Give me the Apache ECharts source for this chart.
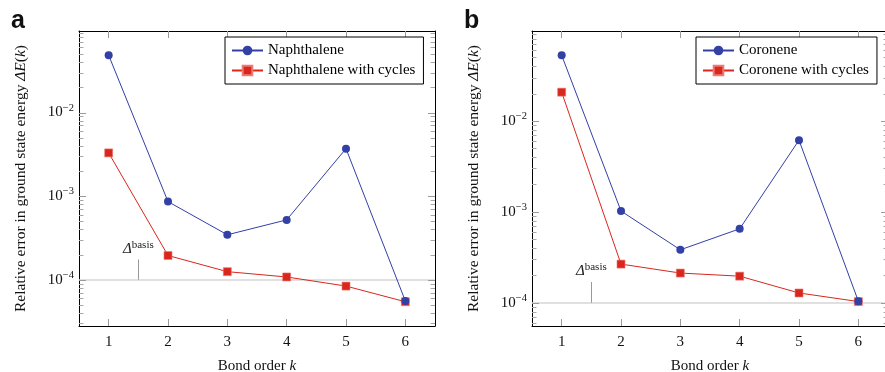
<!DOCTYPE html>
<html><head><meta charset="utf-8">
<script src="https://cdn.jsdelivr.net/npm/echarts@6/dist/echarts.min.js"></script>
<style>html,body{margin:0;padding:0;background:#fff}#c{width:885px;height:372px}</style>
</head><body><div id="c"></div>
<script>
// ---- data ----
const bondOrders = [1, 2, 3, 4, 5, 6];
const naphthalene = [0.0484, 8.6e-4, 3.45e-4, 5.2e-4, 3.7e-3, 5.57e-5];
const naphthaleneCycles = [3.29e-3, 1.95e-4, 1.25e-4, 1.08e-4, 8.4e-5, 5.46e-5];
const coronene = [0.0527, 1.02e-3, 3.82e-4, 6.5e-4, 6.14e-3, 1.04e-4];
const coroneneCycles = [0.0207, 2.66e-4, 2.12e-4, 1.96e-4, 1.28e-4, 1.03e-4];
const yTickExponents = [-4, -3, -2];
const basisThreshold = 1e-4;
const basisMarkerX = 1.5;
const basisMarkerTop = [1.75e-4, 1.69e-4];
const panelLabels = ['a', 'b'];
const seriesNames = [['Naphthalene', 'Naphthalene with cycles'], ['Coronene', 'Coronene with cycles']];
const seriesValues = [[naphthalene, naphthaleneCycles], [coronene, coroneneCycles]];

// ---- layout ----
const SERIF = 'Liberation Serif';
const BLUE = '#3340a6', RED = '#d9271d';
const X_MIN = 0.5, X_MAX = 6.5;
const MAJOR_LEN = 7, MINOR_LEN = 4.5;
const panels = [
  {left: 79, right: 450, logMin: -4.553, logMax: -1.025, legendLeft: 225, letterX: 11},
  {left: 532, right: -3, logMin: -4.256, logMax: -1.011, legendLeft: 696, letterX: 464}
];
// minor tick positions (log10 space) at 2..9 within each decade
const minorYTicks = [];
for (let d = -6; d <= 0; d++) for (let m = 2; m <= 9; m++) minorYTicks.push(d + Math.log10(m));

const labelRich = {
  b: {fontFamily: SERIF, fontSize: 15, color: '#111'},
  s: {fontFamily: SERIF, fontSize: 10.5, color: '#111', padding: [0, 0, 9, 0]}
};
const nameRich = {
  r: {fontFamily: SERIF, fontSize: 15.5, color: '#111'},
  i: {fontFamily: SERIF, fontSize: 15.5, color: '#111', fontStyle: 'italic'}
};
const xNameRich = {
  r: {fontFamily: SERIF, fontSize: 15, color: '#111'},
  i: {fontFamily: SERIF, fontSize: 15, color: '#111', fontStyle: 'italic'}
};

const grid = [], xAxis = [], yAxis = [], series = [], legend = [], graphic = [];
panels.forEach((p, i) => {
  grid.push({left: p.left, right: p.right, top: 31, bottom: 46, containLabel: false, outerBoundsMode: 'none'});
  const xCommon = {type: 'value', gridIndex: i, min: X_MIN, max: X_MAX, splitLine: {show: false},
    axisLine: {show: true, onZero: false, lineStyle: {color: '#000', width: 1}},
    axisTick: {show: true, inside: true, length: MAJOR_LEN, customValues: bondOrders, lineStyle: {color: '#9a9a9a'}}};
  xAxis.push(Object.assign({}, xCommon, {position: 'bottom',
    axisLabel: {show: true, customValues: bondOrders, margin: 9, fontFamily: SERIF, fontSize: 15, color: '#111'},
    name: '{r|Bond order }{i|k}', nameLocation: 'middle', nameGap: 33, nameTextStyle: {rich: xNameRich}}));
  xAxis.push(Object.assign({}, xCommon, {position: 'top', axisLabel: {show: false}}));

  const yCommon = {type: 'value', gridIndex: i, min: p.logMin, max: p.logMax, splitLine: {show: false}, axisTick: {show: false}};
  // left: labels + name + border line (log10 space)
  yAxis.push(Object.assign({}, yCommon, {position: 'left',
    axisLine: {show: true, onZero: false, lineStyle: {color: '#000', width: 1}},
    axisLabel: {show: true, customValues: yTickExponents, margin: 5, formatter: v => '{b|10}{s|\u2212' + (-v) + '}', rich: labelRich},
    name: '{r|Relative error in ground state energy }{i|\u0394E}{r|(}{i|k}{r|)}', nameLocation: 'middle', nameGap: 50,
    nameTextStyle: {rich: nameRich}}));
  // right border line
  yAxis.push(Object.assign({}, yCommon, {position: 'right',
    axisLine: {show: true, onZero: false, lineStyle: {color: '#000', width: 1}},
    axisLabel: {show: false}}));
  // data axis (log scale), hidden
  yAxis.push({type: 'log', gridIndex: i, min: Math.pow(10, p.logMin), max: Math.pow(10, p.logMax), show: false});

  const xi = 2 * i, yLab = 3 * i, yi = 3 * i + 2;

  // inward y ticks on both borders (custom series placed through the log10 label axis)
  const inRange = t => t >= p.logMin && t <= p.logMax;
  const tickData = [];
  [[X_MIN, 1], [X_MAX, -1]].forEach(([xs, dir]) => {
    yTickExponents.filter(inRange).forEach(t => tickData.push([xs, t, dir * MAJOR_LEN, 1]));
    minorYTicks.filter(inRange).forEach(t => tickData.push([xs, t, dir * MINOR_LEN, 0]));
  });
  series.push({type: 'custom', name: 'yTicks' + i, xAxisIndex: xi, yAxisIndex: yLab, silent: true, clip: false, z: 2,
    data: tickData,
    renderItem: (params, api) => {
      const pt = api.coord([api.value(0), api.value(1)]);
      const y = Math.round(pt[1]) + 0.5;
      return {type: 'line', shape: {x1: pt[0], y1: y, x2: pt[0] + api.value(2), y2: y},
        style: {stroke: api.value(3) ? '#9a9a9a' : '#a8a8a8', lineWidth: 1}};
    }});

  const [n0, n1] = seriesNames[i];
  const [v0, v1] = seriesValues[i];
  series.push({type: 'line', name: n0, xAxisIndex: xi, yAxisIndex: yi, z: 4,
    data: bondOrders.map((k, j) => [k, v0[j]]),
    symbol: 'circle', symbolSize: 8, showSymbol: true,
    lineStyle: {color: BLUE, width: 1}, itemStyle: {color: BLUE}});
  series.push({type: 'line', name: n1, xAxisIndex: xi, yAxisIndex: yi, z: 3,
    data: bondOrders.map((k, j) => [k, v1[j]]),
    symbol: 'rect', symbolSize: 8, showSymbol: true,
    lineStyle: {color: RED, width: 1}, itemStyle: {color: RED, borderColor: '#ee7a72', borderWidth: 0.6},
    markLine: {silent: true, symbol: 'none', z: 1, animation: false,
      data: [
        [{coord: [X_MIN, basisThreshold], lineStyle: {color: '#d6d6d6', width: 1.5, type: 'solid'}, label: {show: false}},
         {coord: [X_MAX, basisThreshold]}],
        [{coord: [basisMarkerX, basisThreshold], lineStyle: {color: '#999', width: 1, type: 'solid'},
          label: {show: true, position: 'end', distance: 1, formatter: '{d|\u0394}{s|basis}',
            rich: {d: {fontFamily: SERIF, fontSize: 15, fontStyle: 'italic', color: '#222'},
                   s: {fontFamily: SERIF, fontSize: 11, color: '#222', padding: [0, 0, 8, 0]}}}},
         {coord: [basisMarkerX, basisMarkerTop[i]]}]
      ]}});

  legend.push({left: p.legendLeft, top: 37, orient: 'vertical', data: [n0, n1], selectedMode: false,
    borderColor: '#000', borderWidth: 1, backgroundColor: '#fff', padding: [6, 8, 6, 6],
    itemGap: 5, itemWidth: 31, itemHeight: 12,
    textStyle: {fontFamily: SERIF, fontSize: 15, color: '#000'}});

  graphic.push({type: 'text', left: p.letterX, top: 9,
    style: {text: panelLabels[i], font: 'bold 25px "Liberation Sans"', fill: '#111'}});
});

const chart = echarts.init(document.getElementById('c'));
chart.setOption({animation: false, backgroundColor: '#fff', grid, xAxis, yAxis, series, legend, graphic});
</script></body></html>
